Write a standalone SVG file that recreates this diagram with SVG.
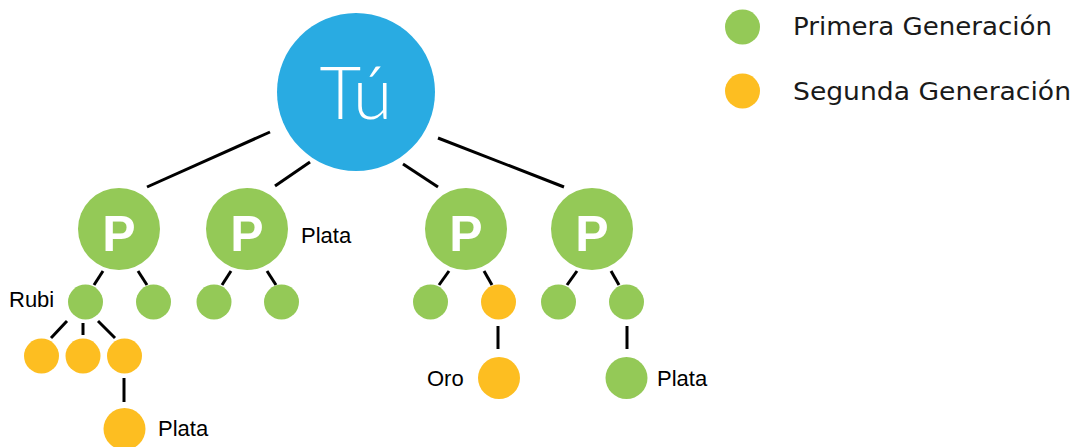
<svg xmlns="http://www.w3.org/2000/svg" width="1076" height="447" viewBox="0 0 1076 447">
<style>
.g{fill:#94C957}
.o{fill:#FDBE21}
.b{fill:#29ABE2}
.ln line{stroke:#000;stroke-width:3}
.lbl{font-family:"Liberation Sans",Arial,sans-serif;font-size:22px;fill:#000}
.p{font-family:"Liberation Sans",Arial,sans-serif;font-size:50px;font-weight:bold;fill:#fff;text-anchor:middle}
.leg{font-family:"DejaVu Sans",sans-serif;font-size:24px;fill:#1a1a1a}
</style>
<rect width="1076" height="447" fill="#fff"/>
<g id="connectors" class="ln">
<line x1="147" y1="187" x2="270" y2="132"/>
<line x1="275" y1="186" x2="310" y2="162"/>
<line x1="403" y1="164" x2="438" y2="187"/>
<line x1="438" y1="138" x2="564" y2="187"/>
<line x1="103" y1="271" x2="94" y2="285"/>
<line x1="138" y1="271" x2="147" y2="285"/>
<line x1="231" y1="271" x2="222" y2="285"/>
<line x1="267" y1="271" x2="276" y2="285"/>
<line x1="449" y1="271" x2="439" y2="285"/>
<line x1="484" y1="271" x2="492" y2="285"/>
<line x1="577" y1="271" x2="567" y2="285"/>
<line x1="611" y1="271" x2="619" y2="285"/>
<line x1="67" y1="321" x2="51" y2="338"/>
<line x1="83" y1="323" x2="83" y2="335"/>
<line x1="98" y1="321" x2="115" y2="338"/>
<line x1="124" y1="378" x2="124" y2="402"/>
<line x1="498" y1="326" x2="498" y2="349"/>
<line x1="627" y1="326" x2="627" y2="349"/>
</g>
<g id="tu">
<circle class="b" cx="356" cy="92" r="79"/>
<text x="356" y="119" text-anchor="middle" font-family="Lato,'DejaVu Sans',sans-serif" font-weight="300" font-size="72" fill="#fff">Tú</text>
</g>
<g id="p1"><circle class="g" cx="119" cy="229" r="41"/><text class="p" x="119" y="251">P</text></g>
<g id="p2"><circle class="g" cx="247" cy="229" r="41"/><text class="p" x="247" y="251">P</text><text class="lbl" x="301" y="243">Plata</text></g>
<g id="p3"><circle class="g" cx="466" cy="229" r="41"/><text class="p" x="466" y="251">P</text></g>
<g id="p4"><circle class="g" cx="592" cy="229" r="41"/><text class="p" x="592" y="251">P</text></g>
<g id="c1"><circle class="g" cx="85.5" cy="302" r="17.5"/><text class="lbl" x="9" y="307">Rubi</text></g>
<g id="c2"><circle class="g" cx="153.5" cy="302" r="17.5"/></g>
<g id="c3"><circle class="g" cx="214" cy="302" r="17.5"/></g>
<g id="c4"><circle class="g" cx="281.5" cy="302" r="17.5"/></g>
<g id="c5"><circle class="g" cx="430.5" cy="302" r="17.5"/></g>
<g id="c6"><circle class="o" cx="498.5" cy="302" r="17.5"/></g>
<g id="c7"><circle class="g" cx="558.5" cy="302" r="17.5"/></g>
<g id="c8"><circle class="g" cx="626.5" cy="302" r="17.5"/></g>
<g id="o1"><circle class="o" cx="41.5" cy="356" r="17.5"/></g>
<g id="o2"><circle class="o" cx="83" cy="356" r="17.5"/></g>
<g id="o3"><circle class="o" cx="124.5" cy="356" r="17.5"/></g>
<g id="o4"><circle class="o" cx="124.5" cy="429" r="21"/><text class="lbl" x="158" y="436">Plata</text></g>
<g id="oro"><circle class="o" cx="499" cy="378" r="21"/><text class="lbl" x="427" y="386">Oro</text></g>
<g id="plata4"><circle class="g" cx="626.5" cy="378" r="21"/><text class="lbl" x="657" y="386">Plata</text></g>
<g id="legend">
<circle class="g" cx="742.5" cy="27" r="17.5"/>
<text class="leg" x="793" y="35" textLength="259" lengthAdjust="spacingAndGlyphs">Primera Generación</text>
<circle class="o" cx="742.5" cy="91" r="17.5"/>
<text class="leg" x="793" y="100" textLength="278" lengthAdjust="spacingAndGlyphs">Segunda Generación</text>
</g>
</svg>
